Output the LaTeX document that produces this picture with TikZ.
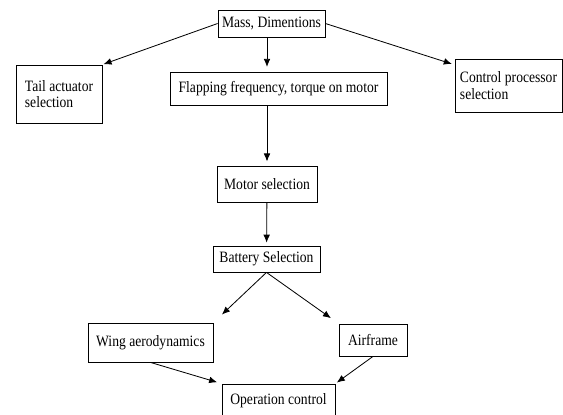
\documentclass[tikz,border=0pt]{standalone}
\usepackage{fontspec}
\setmainfont{Liberation Serif}[FakeStretch=0.86]
\usetikzlibrary{arrows.meta, positioning}
\tikzstyle{block} = [draw, fill=white, rectangle, line width=0.7pt, inner sep=2pt, font=\fontsize{13.5}{14}\selectfont]

\begin{document}
\begin{tikzpicture}[x=0.03cm, y=-0.03cm, >={Latex[length=2.4mm,width=2mm]}, line width=0.7pt]
    \useasboundingbox (0,0) rectangle (563,414);
    \node [block, minimum width=3.21cm, minimum height=0.81cm] (mass) at (271.5,23.5) {Mass, Dimentions};
    \node [block, minimum width=2.58cm, minimum height=1.74cm, align=left] (tail) at (59,94) {Tail actuator\\selection};
    \node [block, minimum width=6.51cm, minimum height=0.99cm] (flap) at (278.5,88.5) {Flapping frequency, torque on motor};
    \node [block, minimum width=3.21cm, minimum height=1.59cm, align=left] (ctrl) at (508.5,85.5) {Control processor\\selection};
    \node [block, minimum width=3.0cm, minimum height=1.08cm] (motor) at (267,184) {Motor selection};
    \node [block, minimum width=3.21cm, minimum height=0.78cm] (batt) at (266.5,259) {Battery Selection};
    \node [block, minimum width=3.75cm, minimum height=1.17cm] (wing) at (150.5,342.5) {Wing aerodynamics};
    \node [block, minimum width=2.04cm, minimum height=0.96cm] (air) at (373,340) {Airframe};
    \node [block, minimum width=3.39cm, minimum height=1.02cm] (op) at (278.5,401) {Operation control};
    \draw [->, shorten >=1pt] (mass.west) -- (tail.north east);
    \draw [->, shorten >=2.5pt] (mass.east) -- (ctrl.159);
    \draw [->, shorten >=4pt] (mass.south -| motor.north) -- (flap.north -| motor.north);
    \draw [->, shorten >=3.5pt] (flap.south -| motor.north) -- (motor.north);
    \draw [->, shorten >=2.5pt] (motor) -- (batt);
    \draw [->, shorten >=10pt] (batt.south) -- (wing.north east);
    \draw [->, shorten >=8pt] (batt.south) -- (air.north west);
    \draw [->, shorten >=4pt] (wing.south) -- (op.north west);
    \draw [->, shorten >=1.5pt] (air.south) -- (op.north east);
\end{tikzpicture}
\end{document}
